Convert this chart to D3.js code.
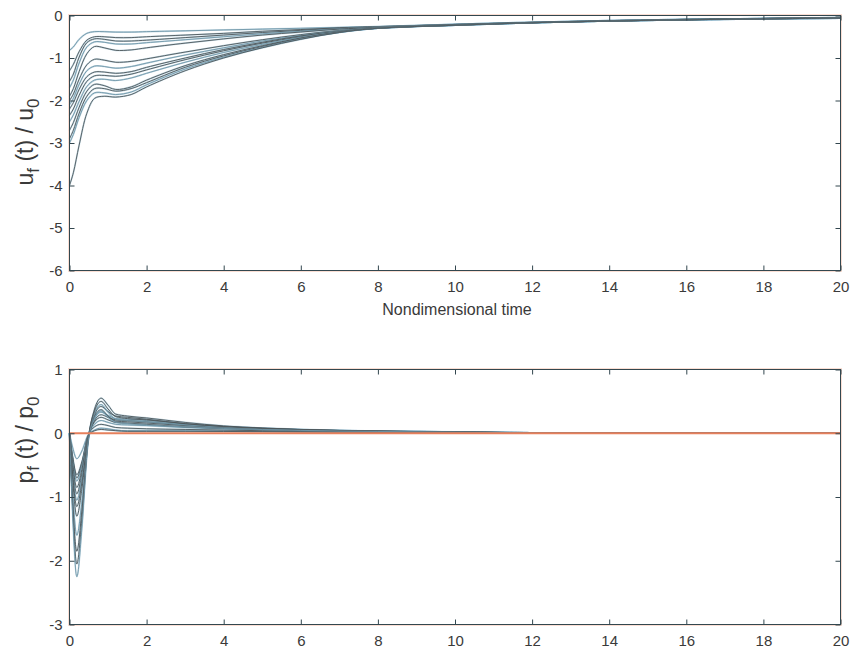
<!DOCTYPE html>
<html><head><meta charset="utf-8">
<script src="https://cdn.jsdelivr.net/npm/d3@7"></script>
<style>
body{margin:0;background:#fff;}
svg{display:block;}
text{font-family:"Liberation Sans",Arial,Helvetica,sans-serif;fill:#3a3a3a;}
</style></head>
<body><svg id="c" width="853" height="653"></svg>
<script>
// ---------- data ----------
const xTicks = [0, 2, 4, 6, 8, 10, 12, 14, 16, 18, 20];
const uTicks = [-6, -5, -4, -3, -2, -1, 0];
const pTicks = [-3, -2, -1, 0, 1];
const xLabel = "Nondimensional time";

// top panel: u_f(t)/u_0 sampled at T_U
const T_U = [0, 0.1, 0.25, 0.45, 0.65, 0.9, 1.2, 1.6, 2, 3, 4, 5, 6, 7, 8, 10, 12, 14, 16, 18, 20];
const u1  = [-0.82, -0.74, -0.56, -0.42, -0.38, -0.38, -0.39, -0.39, -0.38, -0.36, -0.34, -0.32, -0.30, -0.28, -0.26, -0.21, -0.16, -0.12, -0.09, -0.07, -0.05];
const u2  = [-1.30, -1.15, -0.85, -0.58, -0.50, -0.50, -0.52, -0.52, -0.50, -0.46, -0.42, -0.37, -0.33, -0.29, -0.26, -0.21, -0.16, -0.12, -0.09, -0.07, -0.05];
const u3  = [-1.55, -1.38, -0.98, -0.64, -0.55, -0.56, -0.60, -0.60, -0.58, -0.52, -0.46, -0.40, -0.35, -0.30, -0.27, -0.21, -0.16, -0.12, -0.09, -0.07, -0.05];
const u4  = [-1.70, -1.52, -1.12, -0.74, -0.62, -0.63, -0.67, -0.67, -0.64, -0.57, -0.50, -0.43, -0.37, -0.31, -0.27, -0.21, -0.16, -0.12, -0.09, -0.07, -0.05];
const u5  = [-1.90, -1.72, -1.32, -0.90, -0.73, -0.76, -0.82, -0.81, -0.76, -0.65, -0.55, -0.46, -0.39, -0.32, -0.28, -0.22, -0.17, -0.13, -0.10, -0.07, -0.06];
const u6  = [-2.00, -1.85, -1.50, -1.16, -1.03, -1.05, -1.10, -1.08, -1.02, -0.86, -0.71, -0.57, -0.45, -0.35, -0.29, -0.22, -0.17, -0.13, -0.10, -0.07, -0.06];
const u7  = [-2.10, -1.95, -1.62, -1.30, -1.19, -1.20, -1.24, -1.20, -1.12, -0.93, -0.76, -0.60, -0.47, -0.36, -0.29, -0.22, -0.17, -0.13, -0.10, -0.07, -0.06];
const u8  = [-2.20, -2.05, -1.74, -1.44, -1.33, -1.33, -1.36, -1.32, -1.22, -1.00, -0.80, -0.63, -0.48, -0.37, -0.30, -0.22, -0.17, -0.13, -0.10, -0.07, -0.06];
const u9  = [-2.35, -2.20, -1.88, -1.55, -1.42, -1.41, -1.43, -1.38, -1.28, -1.04, -0.83, -0.65, -0.50, -0.38, -0.30, -0.23, -0.17, -0.13, -0.10, -0.08, -0.06];
const u10 = [-2.50, -2.34, -2.02, -1.67, -1.52, -1.50, -1.53, -1.47, -1.36, -1.10, -0.87, -0.68, -0.51, -0.38, -0.30, -0.23, -0.17, -0.13, -0.10, -0.08, -0.06];
const u11 = [-2.70, -2.52, -2.16, -1.78, -1.62, -1.65, -1.74, -1.68, -1.52, -1.18, -0.92, -0.71, -0.53, -0.39, -0.30, -0.23, -0.17, -0.13, -0.10, -0.08, -0.06];
const u12 = [-2.90, -2.70, -2.30, -1.90, -1.72, -1.72, -1.78, -1.72, -1.58, -1.22, -0.95, -0.73, -0.54, -0.39, -0.30, -0.23, -0.17, -0.13, -0.10, -0.08, -0.06];
const u13 = [-3.00, -2.80, -2.40, -2.00, -1.82, -1.82, -1.86, -1.80, -1.63, -1.26, -0.98, -0.75, -0.55, -0.40, -0.30, -0.23, -0.17, -0.13, -0.10, -0.08, -0.06];
const u14 = [-4.00, -3.70, -3.05, -2.30, -1.95, -1.90, -1.92, -1.86, -1.68, -1.30, -1.00, -0.76, -0.56, -0.40, -0.30, -0.23, -0.17, -0.13, -0.10, -0.08, -0.06];
const uSeries = [u1, u2, u3, u4, u5, u6, u7, u8, u9, u10, u11, u12, u13, u14];

// bottom panel: p_f(t)/p_0 sampled at T_P
const T_P = [0, 0.08, 0.19, 0.32, 0.48, 0.65, 0.82, 1.0, 1.2, 1.5, 2, 3, 4, 5, 6, 7, 8, 10, 12, 14, 20];
const p1  = [0, -0.22, -0.40, -0.28, -0.03, 0.05, 0.08, 0.07, 0.05, 0.04, 0.04, 0.04, 0.035, 0.03, 0.025, 0.02, 0.017, 0.01, 0.004, 0, 0];
const p2  = [0, -0.38, -0.70, -0.48, -0.05, 0.04, 0.06, 0.05, 0.04, 0.03, 0.03, 0.03, 0.028, 0.025, 0.02, 0.017, 0.014, 0.008, 0.003, 0, 0];
const p3  = [0, -0.36, -0.65, -0.45, -0.04, 0.10, 0.14, 0.12, 0.09, 0.08, 0.07, 0.06, 0.05, 0.04, 0.033, 0.027, 0.022, 0.014, 0.005, 0, 0];
const p4  = [0, -0.42, -0.75, -0.50, -0.05, 0.14, 0.20, 0.17, 0.14, 0.13, 0.12, 0.09, 0.07, 0.055, 0.042, 0.033, 0.026, 0.016, 0.006, 0, 0];
const p5  = [0, -0.47, -0.85, -0.57, -0.06, 0.18, 0.25, 0.21, 0.17, 0.16, 0.14, 0.10, 0.075, 0.058, 0.045, 0.035, 0.028, 0.017, 0.006, 0, 0];
const p6  = [0, -0.53, -0.95, -0.64, -0.07, 0.20, 0.29, 0.25, 0.21, 0.20, 0.18, 0.13, 0.095, 0.07, 0.052, 0.04, 0.031, 0.019, 0.007, 0, 0];
const p7  = [0, -0.58, -1.05, -0.70, -0.08, 0.23, 0.33, 0.28, 0.23, 0.22, 0.20, 0.14, 0.10, 0.074, 0.055, 0.042, 0.032, 0.02, 0.007, 0, 0];
const p8  = [0, -0.64, -1.15, -0.78, -0.09, 0.26, 0.37, 0.27, 0.19, 0.18, 0.16, 0.12, 0.09, 0.068, 0.05, 0.038, 0.03, 0.018, 0.006, 0, 0];
const p9  = [0, -0.72, -1.30, -0.88, -0.10, 0.29, 0.42, 0.34, 0.27, 0.25, 0.22, 0.15, 0.105, 0.077, 0.057, 0.043, 0.033, 0.02, 0.007, 0, 0];
const p10 = [0, -0.90, -1.60, -1.08, -0.12, 0.31, 0.45, 0.33, 0.22, 0.20, 0.18, 0.13, 0.095, 0.07, 0.052, 0.04, 0.031, 0.019, 0.007, 0, 0];
const p11 = [0, -1.05, -1.85, -1.22, -0.13, 0.38, 0.55, 0.44, 0.30, 0.27, 0.24, 0.17, 0.115, 0.083, 0.06, 0.045, 0.034, 0.021, 0.007, 0, 0];
const p12 = [0, -1.15, -2.05, -1.36, -0.14, 0.35, 0.50, 0.38, 0.26, 0.23, 0.21, 0.15, 0.105, 0.077, 0.057, 0.043, 0.033, 0.02, 0.007, 0, 0];
const p13 = [0, -1.25, -2.25, -1.50, -0.15, 0.24, 0.35, 0.25, 0.17, 0.15, 0.13, 0.10, 0.075, 0.058, 0.045, 0.035, 0.028, 0.017, 0.006, 0, 0];
const pSeries = [p1, p2, p3, p4, p5, p6, p7, p8, p9, p10, p11, p12, p13];

// ---------- drawing ----------
const svg = d3.select("#c");
const X0 = 69.5, X1 = 840.5;
const x = d3.scaleLinear().domain([0, 20]).range([X0, X1]);

function panel(yDomain, yRange, yTicks, T, series, label, labelY, curve, zeroW) {
  const y = d3.scaleLinear().domain(yDomain).range(yRange);
  const g = svg.append("g");
  const fmt = d => String(d);

  // faint chromatic fringe of the frame
  g.append("rect").attr("x", X0 - 1).attr("y", yRange[1] - 1)
    .attr("width", X1 - X0 + 2).attr("height", yRange[0] - yRange[1] + 2)
    .attr("fill", "none").attr("stroke", "#f6c8b6").attr("stroke-width", 1).attr("opacity", 0.6);

  const line = d3.line().x((d, i) => x(T[i])).y(d => y(d)).curve(curve);
  const lg = g.append("g").attr("fill", "none");
  series.forEach((s, k) => {
    lg.append("path").attr("d", line(s)).attr("stroke", "#77a9c2")
      .attr("stroke-width", 1.7).attr("opacity", 0.45);
  });
  series.forEach((s, k) => {
    lg.append("path").attr("d", line(s))
      .attr("stroke", k % 3 === 0 ? "#6f96a8" : "#4d5659")
      .attr("stroke-width", 0.9);
  });

  // zero reference line (drawn over the curves)
  g.append("line").attr("x1", X0).attr("x2", X1).attr("y1", y(0)).attr("y2", y(0))
    .attr("stroke", "#e6805c").attr("stroke-width", zeroW);

  // axes (ticks inward)
  const axB = g.append("g").attr("transform", `translate(0,${yRange[0]})`)
    .call(d3.axisBottom(x).tickValues(xTicks).tickFormat(fmt).tickSize(-5).tickPadding(11));
  const axT = g.append("g").attr("transform", `translate(0,${yRange[1]})`)
    .call(d3.axisTop(x).tickValues(xTicks).tickFormat("").tickSize(-5));
  const axL = g.append("g").attr("transform", `translate(${X0},0)`)
    .call(d3.axisLeft(y).tickValues(yTicks).tickFormat(fmt).tickSize(-5).tickPadding(7));
  const axR = g.append("g").attr("transform", `translate(${X1},0)`)
    .call(d3.axisRight(y).tickValues(yTicks).tickFormat("").tickSize(-5));
  [axB, axT, axL, axR].forEach(a => {
    a.select(".domain").remove();
    a.selectAll("line").attr("stroke", "#33474f").attr("stroke-width", 1);
    a.selectAll("text").attr("font-size", 15).attr("fill", "#3a3a3a")
      .style("font-family", '"Liberation Sans",Arial,sans-serif');
  });

  // frame
  g.append("rect").attr("x", X0).attr("y", yRange[1])
    .attr("width", X1 - X0).attr("height", yRange[0] - yRange[1])
    .attr("fill", "none").attr("stroke", "#33474f").attr("stroke-width", 1);

  // y label
  const t = g.append("text").attr("transform", `translate(33,${labelY}) rotate(-90)`)
    .attr("text-anchor", "middle").attr("font-size", 23).attr("fill", "#2a2a2a");
  t.append("tspan").text(label[0]);
  t.append("tspan").attr("dy", 6).attr("font-size", 17).text(label[1]);
  t.append("tspan").attr("dy", -6).text(label[2]);
  t.append("tspan").attr("dy", 6).attr("font-size", 17).text(label[3]);
  return y;
}

panel([-6, 0], [270.5, 15.5], uTicks, T_U, uSeries, ["u", "f", " (t) / u", "0"], 142, d3.curveCatmullRom.alpha(0.5), 1);
panel([-3, 1], [624.5, 369.5], pTicks, T_P, pSeries, ["p", "f", " (t) / p", "0"], 440, d3.curveMonotoneX, 1.8);

svg.append("text").attr("x", 457).attr("y", 315).attr("text-anchor", "middle")
  .attr("font-size", 16).attr("fill", "#3a3a3a").text(xLabel);
</script></body></html>
